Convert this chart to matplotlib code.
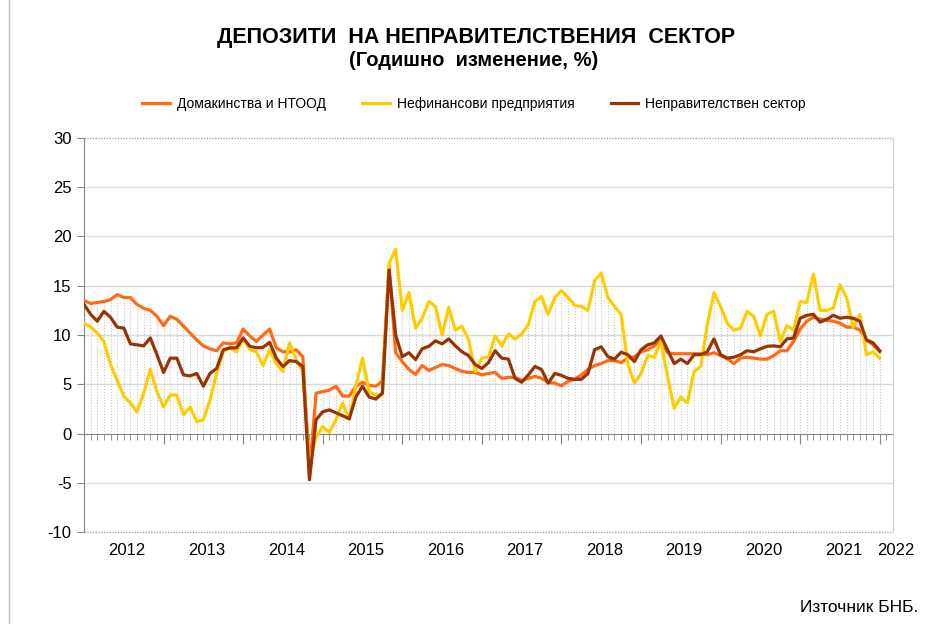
import numpy as np
import matplotlib
matplotlib.use('Agg')
import matplotlib.pyplot as plt
import matplotlib.transforms as mtransforms
from matplotlib.lines import Line2D
from matplotlib.ticker import FixedLocator, NullFormatter

plt.rcParams['font.family'] = ['Liberation Sans', 'DejaVu Sans']
plt.rcParams['axes.unicode_minus'] = False

# monthly yoy change, %, Jan 2012 .. Jan 2022
households = [
    13.5, 13.2, 13.3, 13.4, 13.6, 14.1, 13.8, 13.8, 13.1, 12.7, 12.5, 11.9,
    10.95, 11.9, 11.6, 10.9, 10.2, 9.5, 8.9, 8.6, 8.4, 9.2, 9.1, 9.2,
    10.6, 9.9, 9.35, 10.0, 10.6, 8.7, 8.3, 8.3, 8.5, 7.8, -4.0, 4.1,
    4.25, 4.4, 4.8, 3.8, 3.8, 4.8, 5.2, 4.9, 4.8, 5.3, 17.0, 8.2,
    7.3, 6.5, 6.0, 6.9, 6.4, 6.7, 7.0, 6.9, 6.6, 6.3, 6.2, 6.2,
    5.95, 6.1, 6.2, 5.6, 5.7, 5.7, 5.4, 5.6, 5.8, 5.6, 5.2, 5.1,
    4.85, 5.3, 5.5, 5.95, 6.5, 6.9, 7.1, 7.4, 7.4, 7.2, 7.65, 7.8,
    8.3, 8.5, 8.9, 9.5, 8.2, 8.1, 8.1, 8.1, 8.1, 8.1, 8.0, 8.2,
    7.9, 7.6, 7.1, 7.65, 7.75, 7.65, 7.55, 7.55, 7.9, 8.4, 8.4, 9.35,
    10.6, 11.4, 11.8, 11.6, 11.5, 11.4, 11.2, 10.8, 10.8, 10.5, 9.5, 9.0,
    8.3,
]
nonfinancial = [
    11.2, 10.8, 10.2, 9.35, 7.0, 5.4, 3.8, 3.1, 2.2, 4.1, 6.5, 4.25,
    2.7, 3.9, 3.9, 1.9, 2.7, 1.2, 1.4, 3.4, 6.1, 8.3, 8.7, 8.3,
    9.6, 8.5, 8.3, 6.9, 8.5, 7.1, 6.3, 9.2, 7.5, 6.3, -3.0, -0.4,
    0.7, 0.1, 1.4, 3.1, 1.4, 4.8, 7.65, 4.25, 3.9, 3.9, 17.3, 18.7,
    12.5, 14.3, 10.7, 11.7, 13.4, 12.9, 10.0, 12.8, 10.5, 10.9, 9.5, 6.3,
    7.65, 7.8, 9.9, 8.9, 10.1, 9.6, 10.1, 11.05, 13.4, 13.9, 12.1, 13.8,
    14.5, 13.8, 13.0, 12.9, 12.5, 15.5, 16.3, 13.8, 12.9, 12.1, 7.1, 5.1,
    6.1, 7.9, 7.75, 9.35, 5.8, 2.55, 3.7, 3.1, 6.3, 6.8, 11.05, 14.3,
    12.9, 11.2, 10.5, 10.7, 12.4, 11.9, 9.9, 12.1, 12.4, 9.35, 10.95, 10.5,
    13.4, 13.3, 16.2, 12.5, 12.5, 12.75, 15.1, 13.8, 10.8, 12.1, 8.0, 8.3,
    7.65,
]
nongov = [
    13.1, 12.1, 11.4, 12.4, 11.8, 10.8, 10.7, 9.1, 9.0, 8.9, 9.7, 8.0,
    6.2, 7.65, 7.65, 5.95, 5.85, 6.1, 4.8, 6.1, 6.6, 8.5, 8.7, 8.7,
    9.7, 8.85, 8.7, 8.75, 9.25, 7.65, 6.8, 7.4, 7.3, 6.8, -4.7, 1.4,
    2.2, 2.4, 2.1, 1.8, 1.5, 3.7, 4.8, 3.7, 3.5, 4.1, 16.6, 10.0,
    7.8, 8.2, 7.5, 8.6, 8.85, 9.4, 9.1, 9.6, 8.9, 8.3, 7.9, 7.0,
    6.6, 7.2, 8.4, 7.65, 7.55, 5.6, 5.2, 5.95, 6.8, 6.5, 5.1, 6.1,
    5.9, 5.6, 5.5, 5.5, 6.1, 8.5, 8.8, 7.8, 7.55, 8.25, 8.0, 7.3,
    8.5, 9.0, 9.2, 9.9, 8.5, 7.1, 7.55, 7.1, 8.0, 8.0, 8.3, 9.6,
    8.0, 7.65, 7.75, 8.0, 8.4, 8.3, 8.6, 8.85, 8.9, 8.8, 9.6, 9.7,
    11.7, 12.0, 12.1, 11.3, 11.6, 12.0, 11.7, 11.8, 11.7, 11.4, 9.5, 9.2,
    8.4,
]

series_labels = ['Домакинства и НТООД', 'Нефинансови предприятия', 'Неправителствен сектор']
series_colors = ['#FF6A13', '#FFCC00', '#993300']
year_labels = ['2012', '2013', '2014', '2015', '2016', '2017', '2018', '2019', '2020', '2021', '2022']
year_pos = [6.5, 18.5, 30.5, 42.5, 54.5, 66.5, 78.5, 90.5, 102.5, 114.5, 122.4]
y_ticks = [-10, -5, 0, 5, 10, 15, 20, 25, 30]

months = np.arange(len(households))
data = np.array([households, nonfinancial, nongov])

W, H = 926, 624
fig = plt.figure(figsize=(W / 100, H / 100), dpi=100)
ax = fig.add_axes([84 / W, 1 - 532 / H, (893 - 84) / W, (532 - 138) / H])

# drop lines, grid
lo = np.minimum(0, data.min(axis=0))
hi = np.maximum(0, data.max(axis=0))
ax.vlines(months, lo, hi, colors='#C4C4D6', linestyles=(0, (1, 1.5)), lw=0.8, zorder=1)
for y in y_ticks[1:-1]:
    if y != 0:
        ax.axhline(y, color='#D9D9D9', lw=1, zorder=0)
ax.axhline(30, color='#A6A6A6', lw=1, ls=(0, (1, 1)), clip_on=False, zorder=0)
ax.axhline(-10, color='#A6A6A6', lw=1, ls=(0, (1, 1)), clip_on=False, zorder=0)

handles = []
for vals, lab, col in zip(data, series_labels, series_colors):
    l, = ax.plot(months, vals, color=col, lw=2.3, label=lab, zorder=3,
                 solid_joinstyle='round')
    handles.append(l)

ax.set_xlim(0, 122)
ax.set_ylim(-10, 30)
ax.set_yticks(y_ticks)

ax.spines['top'].set_visible(False)
ax.spines['right'].set_color('#D0D0D0')
ax.spines['left'].set_color('#868686')
ax.spines['bottom'].set_position(('data', 0))
ax.spines['bottom'].set_color('#868686')
ax.spines['bottom'].set_zorder(2)

ax.xaxis.set_major_locator(FixedLocator(list(range(12, 121, 12))))
ax.xaxis.set_minor_locator(FixedLocator(list(range(1, 122))))
ax.xaxis.set_major_formatter(NullFormatter())
ax.tick_params(axis='x', which='major', length=7, direction='out', color='#868686')
ax.tick_params(axis='x', which='minor', length=4, direction='out', color='#868686')
ax.tick_params(axis='y', length=5, direction='out', color='#868686', labelsize=12, pad=4)

trans = mtransforms.blended_transform_factory(ax.transData, ax.transAxes)
for lab, p in zip(year_labels, year_pos):
    ax.text(p, -0.046, lab, transform=trans, ha='center', va='center', fontsize=12,
            family=['Liberation Sans Narrow', 'Liberation Sans', 'DejaVu Sans'], clip_on=False)

fig.text(476 / W, 1 - 37 / H, 'ДЕПОЗИТИ  НА НЕПРАВИТЕЛСТВЕНИЯ  СЕКТОР',
         ha='center', va='center', fontsize=15.5, weight='bold')
fig.text(474 / W, 1 - 60 / H, '(Годишно  изменение, %)',
         ha='center', va='center', fontsize=14.5, weight='bold')

fig.legend(handles, series_labels, loc='center', bbox_to_anchor=(474 / W, 1 - 104 / H),
           ncol=3, frameon=False, fontsize=10, handlelength=2.0, handletextpad=0.5,
           columnspacing=2.6)

fig.text(918 / W, 1 - 607 / H, 'Източник БНБ.', ha='right', va='center', fontsize=12.5)

fig.add_artist(Line2D([8.5 / W, 8.5 / W], [0, 1], transform=fig.transFigure,
                      color='#BFBFBF', lw=1))

fig.savefig('out.png', dpi=100)
